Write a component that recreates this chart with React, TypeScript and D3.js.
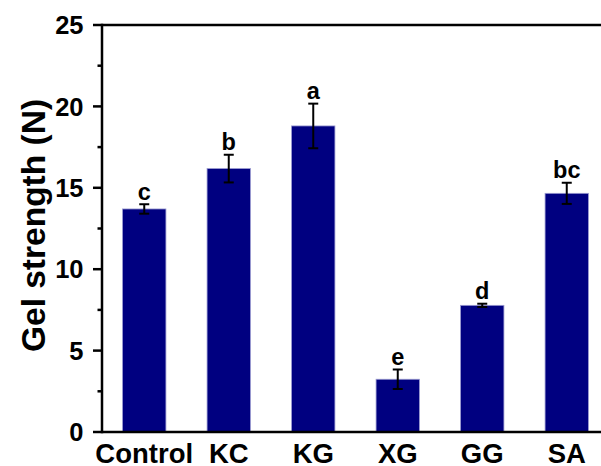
import React from "react";
import * as d3 from "d3";

const categories = ["Control", "KC", "KG", "XG", "GG", "SA"];
const means = [13.7, 16.18, 18.8, 3.24, 7.78, 14.66];
const errors = [0.29, 0.85, 1.37, 0.6, 0.1, 0.65];
const letters = ["c", "b", "a", "e", "d", "bc"];
const majorTicks = [0, 5, 10, 15, 20, 25];
const minorTicks = [2.5, 7.5, 12.5, 17.5, 22.5];

const W = 601;
const H = 466;
const FONT = "'Liberation Sans', Arial, Helvetica, sans-serif";

export default function App() {
  const x = d3
    .scaleBand<string>()
    .domain(categories)
    .range([102, 609])
    .paddingInner(0.487)
    .paddingOuter(0.2435);
  const y = d3.scaleLinear().domain([0, 25]).range([432, 25]);
  const bw = x.bandwidth();
  const axisColor = "#000";

  return (
    <svg
      width={W}
      height={H}
      style={{ position: "absolute", left: 0, top: 0, background: "#fff" }}
      fontFamily={FONT}
    >
      {/* bars */}
      {categories.map((c, i) => (
        <rect
          key={c}
          x={x(c)!}
          y={y(means[i])}
          width={bw}
          height={y(0) - y(means[i])}
          fill="#000080"
          stroke="#9a9ad0"
          strokeWidth={0.8}
        />
      ))}
      {/* error bars */}
      {categories.map((c, i) => {
        const cx = x(c)! + bw / 2;
        const t = y(means[i] + errors[i]);
        const b = y(means[i] - errors[i]);
        return (
          <g key={c + "e"} stroke="#000" strokeWidth={2}>
            <line x1={cx} x2={cx} y1={t} y2={b} />
            <line x1={cx - 5} x2={cx + 5} y1={t} y2={t} />
            <line x1={cx - 5} x2={cx + 5} y1={b} y2={b} />
          </g>
        );
      })}
      {/* letters */}
      {categories.map((c, i) => (
        <text
          key={c + "l"}
          x={x(c)! + bw / 2}
          y={y(means[i] + errors[i]) - 4.5}
          textAnchor="middle"
          fontSize={23.5}
          fontWeight="bold"
          fill="#000"
        >
          {letters[i]}
        </text>
      ))}
      {/* axes */}
      <line x1={102} x2={W} y1={y(0)} y2={y(0)} stroke={axisColor} strokeWidth={2.5} />
      <line x1={102} x2={W} y1={y(25)} y2={y(25)} stroke={axisColor} strokeWidth={2.5} />
      <line x1={102} x2={102} y1={y(25) - 1.25} y2={y(0) + 1.25} stroke={axisColor} strokeWidth={2.5} />
      {majorTicks.map((t) => (
        <g key={"t" + t}>
          <line x1={93} x2={102} y1={y(t)} y2={y(t)} stroke={axisColor} strokeWidth={2.5} />
          <text
            x={83.5}
            y={y(t)}
            dy="0.36em"
            textAnchor="end"
            fontSize={25.5}
            fontWeight="bold"
            fill="#000"
          >
            {t}
          </text>
        </g>
      ))}
      {minorTicks.map((t) => (
        <line key={"m" + t} x1={97.5} x2={102} y1={y(t)} y2={y(t)} stroke={axisColor} strokeWidth={2.5} />
      ))}
      {categories.map((c) => (
        <text
          key={c + "x"}
          x={x(c)! + bw / 2}
          y={463}
          textAnchor="middle"
          fontSize={27.5}
          fontWeight="bold"
          fill="#000"
        >
          {c}
        </text>
      ))}
      <text
        transform={`translate(45,225.5) rotate(-90)`}
        textAnchor="middle"
        fontSize={33.5}
        fontWeight="bold"
        fill="#000"
      >
        Gel strength (N)
      </text>
    </svg>
  );
}
